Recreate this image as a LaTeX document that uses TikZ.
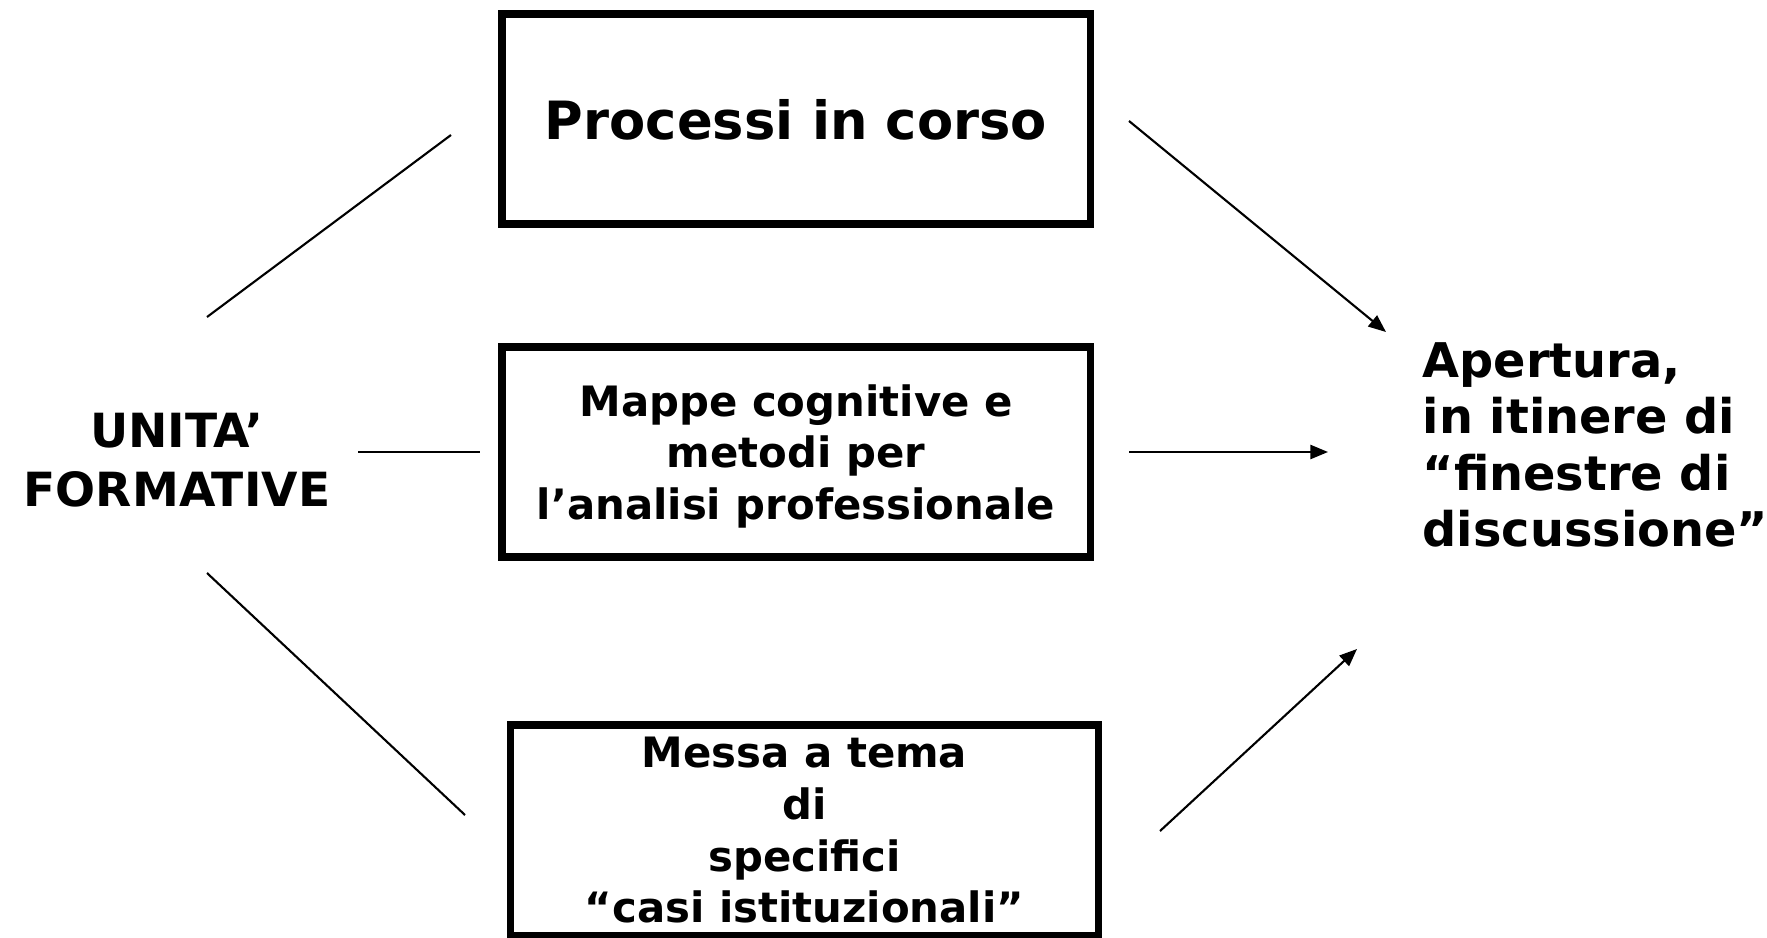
\documentclass[tikz,border=0pt]{standalone}
\usepackage{fontspec}
\setmainfont{DejaVu Sans}
\usetikzlibrary{arrows.meta,positioning}
\tikzset{
  unitbox/.style={draw,line width=2pt,inner sep=0pt,align=center,text depth=-1.8pt,
    minimum width=5.88cm,minimum height=2.1cm,font=\bfseries\fontsize{11.9}{14.7}\selectfont},
  sidetext/.style={inner sep=0pt,font=\bfseries\fontsize{13.4}{16.6}\selectfont},
  link/.style={line width=0.6pt},
  flow/.style={line width=0.6pt,-{Triangle[length=5pt,width=4pt]}}
}

\begin{document}
\begin{tikzpicture}
    \useasboundingbox (0,0) rectangle (17.67,9.37);

    % -- The three boxes in the middle column --
    \node[unitbox,font=\bfseries\fontsize{15}{18}\selectfont] (proc) at (7.96,8.18) {Processi in corso};
    \node[unitbox] (mappe) at (7.96,4.85)
      {Mappe cognitive e\\metodi per\\l’analisi professionale};
    \node[unitbox] (messa) at (8.045,1.07)
      {Messa a tema\\di\\specifici\\“casi istituzionali”};

    % -- Left and right labels --
    \node[sidetext,align=center] (unita) at (1.77,4.77) {UNITA’\\FORMATIVE};
    \node[sidetext,align=left,anchor=west,font=\bfseries\fontsize{13.6}{16}\selectfont]
      (apertura) at (14.22,4.92)
      {Apertura,\\in itinere di\\“finestre di\\discussione”};

    % -- Free ends of the connectors --
    \coordinate (l1s) at (2.07,6.20);
    \coordinate (l1e) at (4.51,8.02);
    \coordinate (l2s) at (3.58,4.85);
    \coordinate (l2e) at (4.80,4.85);
    \coordinate (l3s) at (2.07,3.64);
    \coordinate (l3e) at (4.65,1.22);
    \coordinate (r1s) at (11.29,8.16);
    \coordinate (r1e) at (13.86,6.05);
    \coordinate (r2s) at (11.29,4.85);
    \coordinate (r2e) at (13.28,4.85);
    \coordinate (r3s) at (11.60,1.06);
    \coordinate (r3e) at (13.57,2.88);

    % -- Plain lines on the left --
    \draw[link] (l1s) -- (l1e);
    \draw[link] (l2s) -- (l2e);
    \draw[link] (l3s) -- (l3e);

    % -- Arrows on the right --
    \draw[flow] (r1s) -- (r1e);
    \draw[flow] (r2s) -- (r2e);
    \draw[flow] (r3s) -- (r3e);

\end{tikzpicture}
\end{document}
